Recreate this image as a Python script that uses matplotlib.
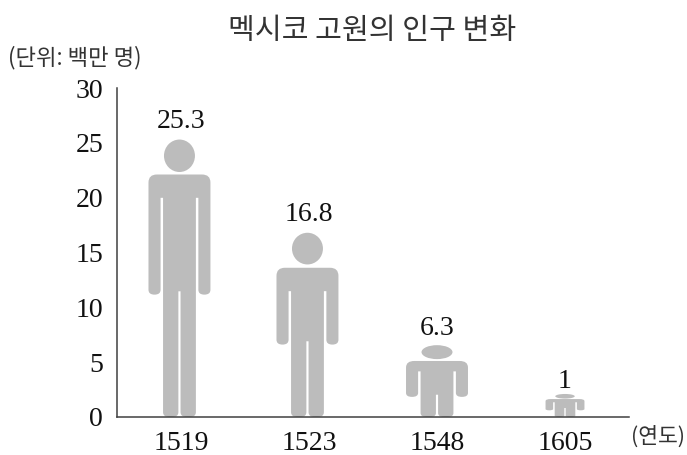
import numpy as np
import matplotlib
matplotlib.use("Agg")
import matplotlib.pyplot as plt
from matplotlib.patches import Ellipse, PathPatch
from matplotlib.path import Path

# %% Data
years = ["1519", "1523", "1548", "1605"]
population = [25.3, 16.8, 6.3, 1]
value_labels = ["25.3", "16.8", "6.3", "1"]
y_ticks = [0, 5, 10, 15, 20, 25, 30]

# The drawn figures are not strictly to scale, the last two are taller than their value
icon_heights = [25.3, 16.8, 6.55, 2.1]

# Body proportions of each figure, as a fraction of its height
head_bottom = [0.883, 0.828, 0.806, 0.80]
shoulder = [0.874, 0.81, 0.78, 0.78]
armpit = [0.79, 0.683, 0.635, 0.64]
arm_end = [0.441, 0.393, 0.28, 0.29]
crotch = [0.453, 0.411, 0.31, 0.39]
half_widths = [0.242, 0.242, 0.242, 0.152]
icon_shifts = [-0.012, -0.012, 0, 0]
label_gaps = [8.6, 8.6, 7.4, 4.6]

SERIF = "Liberation Serif"
HANGUL = ["Noto Sans CJK KR", "DejaVu Sans"]
ICON_COLOR = "#bcbcbc"
AXIS_COLOR = "#404040"
TEXT_COLOR = "#333333"


# %% Drawing helpers
def rounded_path(corners):
    # corners are (x, y, rx, ry), all edges are horizontal or vertical
    verts, codes = [], []
    n = len(corners)
    for i, (x, y, rx, ry) in enumerate(corners):
        px, py = corners[i - 1][:2]
        nx, ny = corners[(i + 1) % n][:2]
        start = (x + np.sign(px - x) * rx, y + np.sign(py - y) * ry)
        end = (x + np.sign(nx - x) * rx, y + np.sign(ny - y) * ry)
        verts += [start, (x, y), end]
        codes += [Path.MOVETO if i == 0 else Path.LINETO, Path.CURVE3, Path.CURVE3]
    verts.append(verts[0])
    codes.append(Path.CLOSEPOLY)
    return Path(verts, codes)


def draw_person(ax, i):
    cx = i + icon_shifts[i]
    h = icon_heights[i]
    hw = half_widths[i]
    torso = 0.53 * hw
    arm_in = 0.61 * hw
    gap = 0.035 * hw
    ry = min(0.73, 0.09 * h)
    arm_r = (hw - arm_in) / 2
    foot_r = (torso - gap) * 0.4
    foot_ry = ry * 0.6

    top = shoulder[i] * h
    pit = armpit[i] * h
    arm = arm_end[i] * h
    cr = crotch[i] * h

    # right half of the outline, going up from the crotch to the shoulder
    right = [
        (cx + gap, cr, 0, 0),
        (cx + gap, 0, foot_r, foot_ry),
        (cx + torso, 0, foot_r, foot_ry),
        (cx + torso, pit, 0, 0),
        (cx + arm_in, pit, 0, 0),
        (cx + arm_in, arm, arm_r, foot_ry),
        (cx + hw, arm, arm_r, foot_ry),
        (cx + hw, top, 0.27 * hw, ry),
    ]
    left = [(2 * cx - x, y, rx, r) for x, y, rx, r in reversed(right)]
    ax.add_patch(PathPatch(rounded_path(right + left), facecolor=ICON_COLOR, edgecolor="none"))

    head_y = head_bottom[i] * h
    ax.add_patch(Ellipse((cx, (head_y + h) / 2), 2 * 0.5 * hw, h - head_y,
                         facecolor=ICON_COLOR, edgecolor="none"))


# %% Plot
fig = plt.figure(figsize=(6.87, 4.55), dpi=100)
ax = fig.add_axes([117 / 687, 38 / 455, 512 / 687, 329 / 455])

for i in range(len(years)):
    draw_person(ax, i)
    ax.annotate(value_labels[i], (i, icon_heights[i]), xytext=(0, label_gaps[i]),
                textcoords="offset points", ha="center", va="baseline",
                family=SERIF, fontsize=20, color="#111111")

ax.set_xlim(-0.5, 3.5)
ax.set_ylim(0, 30)
ax.set_xticks(range(len(years)))
ax.set_xticklabels(years, family=SERIF, fontsize=20, color="#111111")
ax.set_yticks(y_ticks)
ax.set_yticklabels([str(t) for t in y_ticks], family=SERIF, fontsize=20, color="#111111")
ax.tick_params(axis="both", length=0)
ax.tick_params(axis="y", pad=10)
ax.tick_params(axis="x", pad=10)

ax.spines["top"].set_visible(False)
ax.spines["right"].set_visible(False)
ax.spines["left"].set_color(AXIS_COLOR)
ax.spines["bottom"].set_color(AXIS_COLOR)
ax.spines["left"].set_linewidth(1.1)
ax.spines["bottom"].set_linewidth(1.1)

fig.text(372 / 687, 1 - 31 / 455, "멕시코 고원의 인구 변화", ha="center", va="center",
         family=HANGUL, fontsize=21, color=TEXT_COLOR, weight="light")
fig.text(8 / 687, 1 - 58 / 455, "(단위: 백만 명)", ha="left", va="center",
         family=HANGUL, fontsize=16, color=TEXT_COLOR, weight="light")
fig.text(631 / 687, 1 - 437 / 455, "(연도)", ha="left", va="center",
         family=HANGUL, fontsize=15.5, color=TEXT_COLOR, weight="light")

fig.savefig("out.png", dpi=100)
